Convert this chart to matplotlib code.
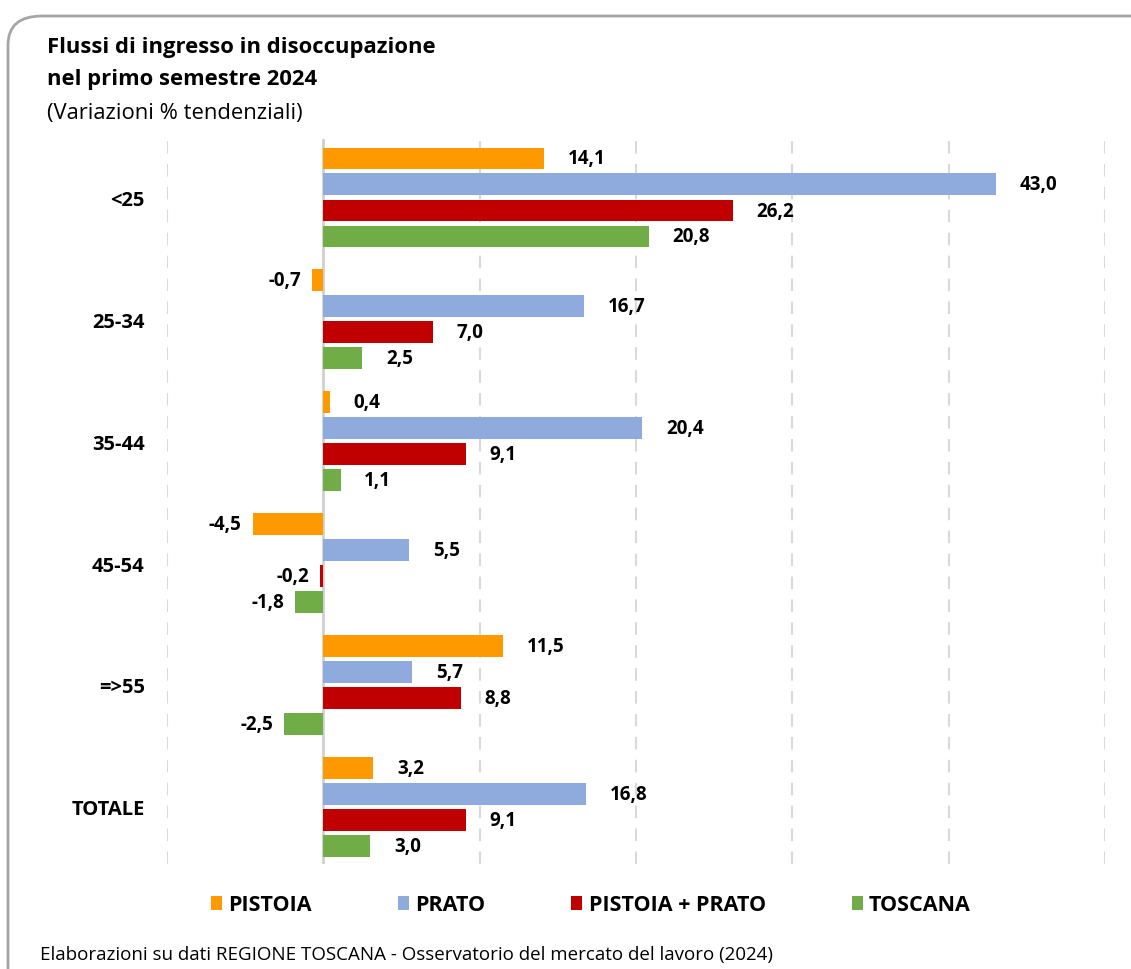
import matplotlib
matplotlib.use("Agg")
import matplotlib.pyplot as plt
from matplotlib.patches import FancyBboxPatch, Patch
import numpy as np

# data
categories = ['<25', '25-34', '35-44', '45-54', '=>55', 'TOTALE']
series_names = ['PISTOIA', 'PRATO', 'PISTOIA + PRATO', 'TOSCANA']
pistoia = [14.1, -0.7, 0.4, -4.5, 11.5, 3.2]
prato = [43.0, 16.7, 20.4, 5.5, 5.7, 16.8]
pistoia_prato = [26.2, 7.0, 9.1, -0.2, 8.8, 9.1]
toscana = [20.8, 2.5, 1.1, -1.8, -2.5, 3.0]
colors = ['#FF9900', '#8FAADC', '#C00000', '#70AD47']

plt.rcParams['font.family'] = ['Open Sans', 'DejaVu Sans']

fig = plt.figure(figsize=(11.31, 9.7), dpi=100)

# rounded frame
frame = FancyBboxPatch((8 / 1131, -0.05), 1.2, 1 - 17 / 970 + 0.05,
                       boxstyle="round,pad=0,rounding_size=0.03",
                       transform=fig.transFigure, fill=False,
                       edgecolor='#A6A6A6', linewidth=2, clip_on=False)
fig.patches.append(frame)

ax = fig.add_axes([167 / 1131, 1 - 865 / 970, (1105 - 167) / 1131, (865 - 140) / 970])

all_series = [pistoia, prato, pistoia_prato, toscana]
y = np.arange(len(categories))
offsets = [-0.32, -0.107, 0.107, 0.32]
bar_h = 0.18

for vals, off, col in zip(all_series, offsets, colors):
    bars = ax.barh(y + off, vals, height=bar_h, color=col, zorder=3)
    for b, v in zip(bars, vals):
        txt = ('%.1f' % v).replace('.', ',')
        yc = b.get_y() + b.get_height() / 2
        if v >= 0:
            ax.annotate(txt, (v, yc), xytext=(17, 0), textcoords='offset points',
                        ha='left', va='center', fontsize=13.5, fontweight='bold')
        else:
            ax.annotate(txt, (v, yc), xytext=(-8, 0), textcoords='offset points',
                        ha='right', va='center', fontsize=13.5, fontweight='bold')

ax.set_xlim(-10, 50)
ax.set_ylim(5.47, -0.48)
ax.set_xticks(np.arange(-10, 51, 10))
ax.set_xticklabels([])
ax.tick_params(axis='x', length=0)
ax.set_yticks(y)
ax.set_yticklabels(categories, fontsize=14.5, fontweight='bold')
ax.tick_params(axis='y', length=0, pad=16)
for s in ax.spines.values():
    s.set_visible(False)
for xv in np.arange(-10, 51, 10):
    if xv == 0:
        ax.axvline(0, color='#D0D0D0', linewidth=2, zorder=2)
    else:
        ax.axvline(xv, color='#D9D9D9', linewidth=1.5, linestyle=(0, (6, 5)), zorder=1)

# titles
fig.text(47 / 1131, 1 - 48 / 970, 'Flussi di ingresso in disoccupazione', fontsize=15.8,
         fontweight='bold', va='center', ha='left')
fig.text(47 / 1131, 1 - 79 / 970, 'nel primo semestre 2024', fontsize=15.8,
         fontweight='bold', va='center', ha='left')
fig.text(47 / 1131, 1 - 113 / 970, '(Variazioni % tendenziali)', fontsize=15.8,
         va='center', ha='left')

handles = [Patch(facecolor=c) for c in colors]
leg = fig.legend(handles, series_names, loc='center', bbox_to_anchor=(591 / 1131, 1 - 906 / 970),
                 ncol=4, frameon=False, handlelength=0.5, handleheight=0.65,
                 handletextpad=0.3, columnspacing=4.0,
                 prop={'size': 15.5, 'weight': 'bold'})

fig.text(40 / 1131, 1 - 955 / 970,
         'Elaborazioni su dati REGIONE TOSCANA - Osservatorio del mercato del lavoro (2024)',
         fontsize=13.5, va='center', ha='left')

fig.savefig('out.png', dpi=100)
